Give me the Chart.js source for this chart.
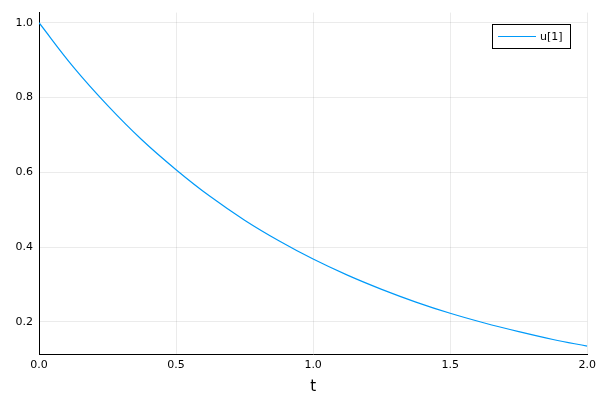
<!DOCTYPE html>
<html>
<head>
<script src="https://cdn.jsdelivr.net/npm/chart.js@4"></script>
<style>body{margin:0;background:#fff}#wrap{width:600px;height:400px}</style>
</head>
<body>
<div id="wrap"><canvas id="c"></canvas></div>
<script>
const tValues = [0, 0.125, 0.25, 0.375, 0.5, 0.625, 0.75, 0.875, 1.0, 1.125, 1.25, 1.375, 1.5, 1.625, 1.75, 1.875, 2.0];
const uValues = [1.0, 0.882, 0.779, 0.687, 0.607, 0.535, 0.472, 0.417, 0.368, 0.325, 0.287, 0.253, 0.223, 0.197, 0.174, 0.153, 0.135];
const xTicks = [0, 0.5, 1.0, 1.5, 2.0];
const yTicks = [0.2, 0.4, 0.6, 0.8, 1.0];
const seriesName = "u[1]";

const legendBox = {
  id: "legendBox",
  afterDraw(chart) {
    const ctx = chart.ctx;
    ctx.save();
    ctx.strokeStyle = "#000";
    ctx.lineWidth = 1;
    ctx.fillStyle = "#fff";
    ctx.fillRect(492.5, 24.5, 78, 24);
    ctx.strokeRect(492.5, 24.5, 78, 24);
    ctx.strokeStyle = "#009af9";
    ctx.beginPath();
    ctx.moveTo(498, 36.5);
    ctx.lineTo(536, 36.5);
    ctx.stroke();
    ctx.fillStyle = "#000";
    ctx.font = "11px 'DejaVu Sans'";
    ctx.textBaseline = "middle";
    ctx.fillText(seriesName, 540, 37);
    ctx.restore();
  }
};

new Chart(document.getElementById("c"), {
  type: "line",
  data: {
    datasets: [{
      label: seriesName,
      data: tValues.map((t, i) => ({ x: t, y: uValues[i] })),
      borderColor: "#009af9",
      borderWidth: 1.2,
      pointRadius: 0,
      tension: 0.4,
      fill: false
    }]
  },
  options: {
    responsive: true,
    maintainAspectRatio: false,
    animation: false,
    layout: { padding: { top: 12, right: 12, left: 0, bottom: 4 } },
    plugins: { legend: { display: false }, tooltip: { enabled: false } },
    scales: {
      x: {
        type: "linear", min: 0, max: 2,
        afterBuildTicks: (ax) => { ax.ticks = xTicks.map((v) => ({ value: v })); },
        ticks: { color: "#000", font: { family: "DejaVu Sans", size: 11 }, maxRotation: 0, callback: (v) => v.toFixed(1), padding: 4 },
        grid: { color: "rgba(0,0,0,0.08)", drawTicks: false },
        border: { color: "#000", width: 1 },
        title: { display: true, text: "t", color: "#000", font: { family: "DejaVu Sans", size: 15 }, padding: { top: 2, bottom: 0 } }
      },
      y: {
        type: "linear", min: 0.112, max: 1.027,
        afterBuildTicks: (ax) => { ax.ticks = yTicks.map((v) => ({ value: v })); },
        afterFit: (ax) => { ax.width = 39; },
        ticks: { color: "#000", font: { family: "DejaVu Sans", size: 11 }, callback: (v) => v.toFixed(1), padding: 6 },
        grid: { color: "rgba(0,0,0,0.08)", drawTicks: false },
        border: { color: "#000", width: 1 }
      }
    }
  },
  plugins: [legendBox]
});
</script>
</body>
</html>
